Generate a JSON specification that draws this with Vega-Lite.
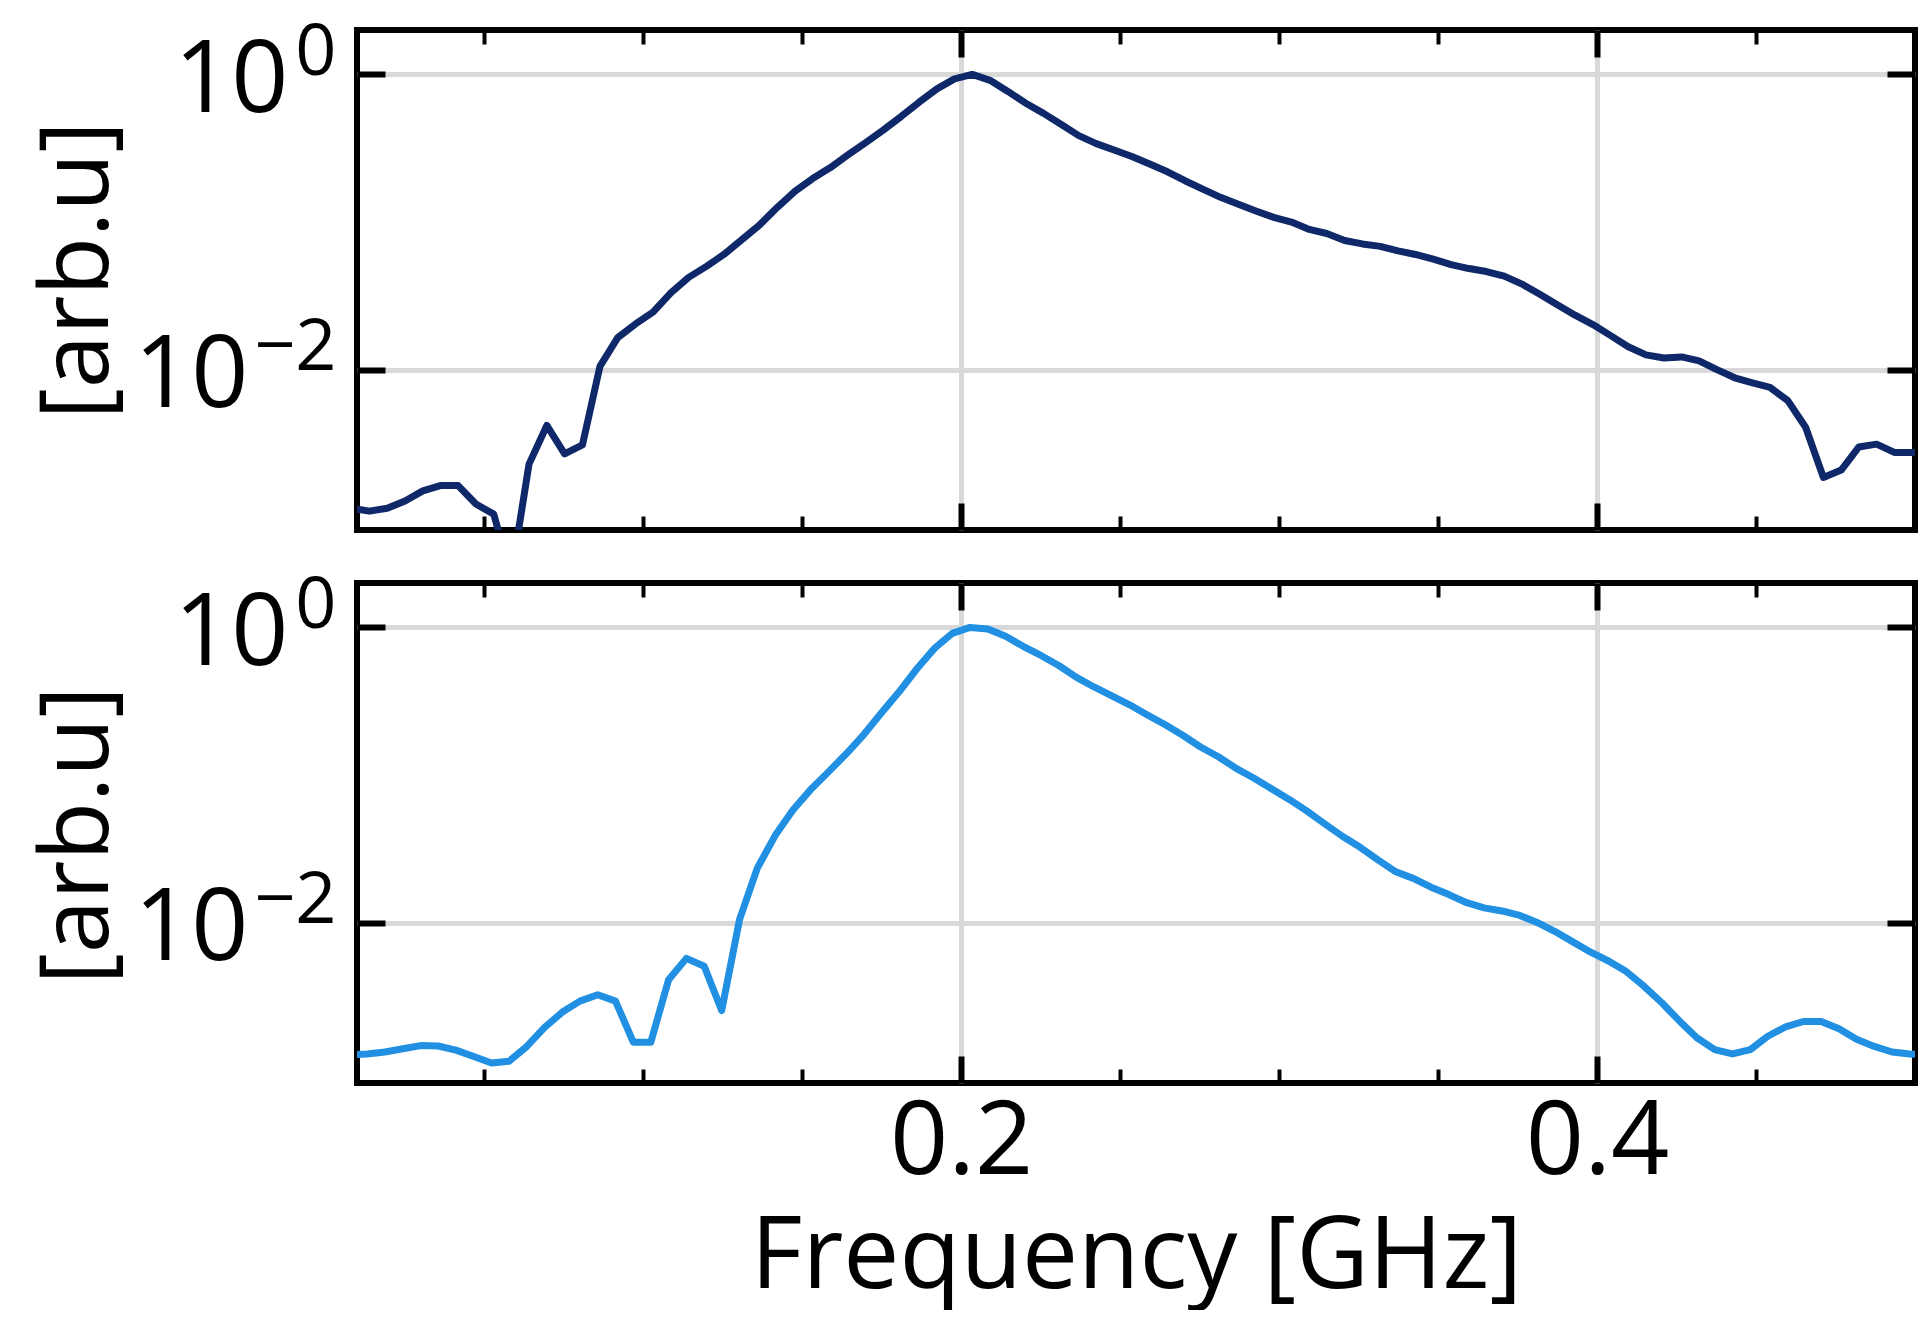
{
  "$schema": "https://vega.github.io/schema/vega-lite/v6.json",
  "background": "white",
  "padding": {"left": 27, "top": 13, "right": 0, "bottom": 0},
  "bounds": "flush",
  "spacing": 53,
  "config": {
    "view": {"stroke": "black", "strokeWidth": 6},
    "axis": {"domain": false, "labelFont": "Open Sans", "titleFont": "Open Sans", "labelColor": "black", "titleColor": "black", "tickColor": "black", "titleFontWeight": "normal", "labelFontWeight": "normal"}
  },
  "datasets": {
    "top": [
      {"f":0.0028,"a":0.00115},{"f":0.0084,"a":0.00115},{"f":0.0139,"a":0.0011},{"f":0.0195,"a":0.00115},{"f":0.0251,"a":0.00129},{"f":0.0307,"a":0.00151},{"f":0.0362,"a":0.00164},{"f":0.0418,"a":0.00164},{"f":0.0474,"a":0.00123},{"f":0.053,"a":0.00105},
      {"f":0.0585,"a":0.000398},{"f":0.0641,"a":0.00229},{"f":0.0697,"a":0.00419},{"f":0.0753,"a":0.00269},{"f":0.0809,"a":0.00309},{"f":0.0864,"a":0.01052},{"f":0.092,"a":0.01648},{"f":0.0976,"a":0.0204},{"f":0.1031,"a":0.0245},{"f":0.1087,"a":0.0331},
      {"f":0.1143,"a":0.0422},{"f":0.1199,"a":0.0501},{"f":0.1254,"a":0.0603},{"f":0.131,"a":0.0759},{"f":0.1366,"a":0.0955},{"f":0.1422,"a":0.1259},{"f":0.1478,"a":0.162},{"f":0.1533,"a":0.197},{"f":0.1589,"a":0.234},{"f":0.1645,"a":0.286},
      {"f":0.1701,"a":0.347},{"f":0.1756,"a":0.421},{"f":0.1812,"a":0.52},{"f":0.1868,"a":0.649},{"f":0.1924,"a":0.798},{"f":0.1979,"a":0.933},{"f":0.2035,"a":1.0},{"f":0.2091,"a":0.912},{"f":0.2147,"a":0.767},{"f":0.2202,"a":0.641},
      {"f":0.2258,"a":0.547},{"f":0.2314,"a":0.46},{"f":0.237,"a":0.385},{"f":0.2425,"a":0.34},{"f":0.2481,"a":0.308},{"f":0.2537,"a":0.278},{"f":0.2593,"a":0.247},{"f":0.2649,"a":0.219},{"f":0.2704,"a":0.1905},{"f":0.276,"a":0.167},
      {"f":0.2816,"a":0.147},{"f":0.2872,"a":0.132},{"f":0.2927,"a":0.119},{"f":0.2983,"a":0.1076},{"f":0.3039,"a":0.1},{"f":0.3095,"a":0.0891},{"f":0.315,"a":0.0836},{"f":0.3206,"a":0.075},{"f":0.3262,"a":0.0711},{"f":0.3318,"a":0.0684},
      {"f":0.3374,"a":0.0638},{"f":0.3429,"a":0.0603},{"f":0.3485,"a":0.056},{"f":0.3541,"a":0.0515},{"f":0.3597,"a":0.0484},{"f":0.3652,"a":0.0462},{"f":0.3708,"a":0.043},{"f":0.3764,"a":0.038},{"f":0.382,"a":0.0324},{"f":0.3875,"a":0.0275},
      {"f":0.3931,"a":0.0234},{"f":0.3987,"a":0.0202},{"f":0.4043,"a":0.017},{"f":0.4098,"a":0.0143},{"f":0.4154,"a":0.0126},{"f":0.421,"a":0.012},{"f":0.4266,"a":0.0122},{"f":0.4321,"a":0.01148},{"f":0.4377,"a":0.01},{"f":0.4433,"a":0.00881},
      {"f":0.4489,"a":0.00813},{"f":0.4544,"a":0.00759},{"f":0.46,"a":0.00617},{"f":0.4656,"a":0.00407},{"f":0.4712,"a":0.00186},{"f":0.4768,"a":0.00209},{"f":0.4823,"a":0.00299},{"f":0.4879,"a":0.00313},{"f":0.4935,"a":0.00275},{"f":0.499,"a":0.00275},
      {"f":0.5046,"a":0.00275}
    ],
    "bottom": [
      {"f":0.0021,"a":0.00126},{"f":0.0077,"a":0.00127},{"f":0.0132,"a":0.00129},{"f":0.0188,"a":0.00133},{"f":0.0244,"a":0.0014},{"f":0.03,"a":0.00147},{"f":0.0355,"a":0.00146},{"f":0.0411,"a":0.00137},{"f":0.0467,"a":0.00124},{"f":0.0523,"a":0.00112},
      {"f":0.0578,"a":0.00115},{"f":0.0634,"a":0.00145},{"f":0.069,"a":0.00195},{"f":0.0746,"a":0.00248},{"f":0.0801,"a":0.00294},{"f":0.0857,"a":0.00325},{"f":0.0913,"a":0.00294},{"f":0.0969,"a":0.00155},{"f":0.1024,"a":0.00155},{"f":0.108,"a":0.0041},
      {"f":0.1136,"a":0.00573},{"f":0.1192,"a":0.00507},{"f":0.1247,"a":0.00254},{"f":0.1303,"a":0.01047},{"f":0.1359,"a":0.0234},{"f":0.1415,"a":0.0389},{"f":0.1471,"a":0.0579},{"f":0.1526,"a":0.0794},{"f":0.1582,"a":0.1047},{"f":0.1638,"a":0.1387},
      {"f":0.1694,"a":0.188},{"f":0.1749,"a":0.263},{"f":0.1805,"a":0.366},{"f":0.1861,"a":0.525},{"f":0.1917,"a":0.724},{"f":0.1972,"a":0.912},{"f":0.2028,"a":1.0},{"f":0.2084,"a":0.977},{"f":0.214,"a":0.871},{"f":0.2195,"a":0.745},
      {"f":0.2251,"a":0.646},{"f":0.2307,"a":0.552},{"f":0.2363,"a":0.459},{"f":0.2418,"a":0.395},{"f":0.2474,"a":0.344},{"f":0.253,"a":0.299},{"f":0.2586,"a":0.255},{"f":0.2642,"a":0.219},{"f":0.2697,"a":0.186},{"f":0.2753,"a":0.155},
      {"f":0.2809,"a":0.133},{"f":0.2865,"a":0.111},{"f":0.292,"a":0.0955},{"f":0.2976,"a":0.0807},{"f":0.3032,"a":0.0684},{"f":0.3088,"a":0.0569},{"f":0.3143,"a":0.0468},{"f":0.3199,"a":0.0385},{"f":0.3255,"a":0.0324},{"f":0.3311,"a":0.0266},
      {"f":0.3367,"a":0.0221},{"f":0.3422,"a":0.01995},{"f":0.3478,"a":0.0174},{"f":0.3534,"a":0.0155},{"f":0.359,"a":0.01365},{"f":0.3645,"a":0.0126},{"f":0.3701,"a":0.012},{"f":0.3757,"a":0.0112},{"f":0.3813,"a":0.01},{"f":0.3868,"a":0.00871},
      {"f":0.3924,"a":0.00741},{"f":0.398,"a":0.00631},{"f":0.4036,"a":0.0055},{"f":0.4091,"a":0.00468},{"f":0.4147,"a":0.00372},{"f":0.4203,"a":0.00288},{"f":0.4259,"a":0.00216},{"f":0.4314,"a":0.00166},{"f":0.437,"a":0.00138},{"f":0.4426,"a":0.00129},
      {"f":0.4482,"a":0.00138},{"f":0.4537,"a":0.0017},{"f":0.4593,"a":0.00197},{"f":0.4649,"a":0.00214},{"f":0.4705,"a":0.00214},{"f":0.4761,"a":0.00191},{"f":0.4816,"a":0.00162},{"f":0.4872,"a":0.00145},{"f":0.4928,"a":0.00133},{"f":0.4983,"a":0.00129},
      {"f":0.5039,"a":0.00127}
    ]
  },
  "vconcat": [
    {
      "width": 1558, "height": 500,
      "data": {"name": "top"},
      "layer": [
        {"mark": {"type": "line", "color": "#0f286a", "strokeWidth": 7, "clip": true, "strokeJoin": "round"},
         "encoding": {
           "x": {"field": "f", "type": "quantitative", "scale": {"domain": [0.01, 0.5], "nice": false, "zero": false}, "axis": {"orient": "bottom", "values": [0.2, 0.4], "labels": false, "tickSize": -27, "tickWidth": 6, "grid": true, "gridColor": "#d9d9d9", "gridWidth": 5, "title": null}},
           "y": {"field": "a", "type": "quantitative", "scale": {"type": "log", "domain": [0.00082, 2.0], "nice": false}, "axis": {"orient": "left", "values": [1, 0.01], "labels": false, "tickSize": -28, "tickWidth": 6, "grid": true, "gridColor": "#d9d9d9", "gridWidth": 5, "title": null}}
         }},
        {"mark": {"type": "line", "opacity": 0},
         "encoding": {
           "x": {"field": "f", "type": "quantitative", "scale": {"domain": [0.01, 0.5], "nice": false, "zero": false}, "axis": {"orient": "bottom", "values": [0.05, 0.1, 0.15, 0.25, 0.3, 0.35, 0.45], "labels": false, "tickSize": -14, "tickWidth": 4, "grid": false, "title": null}},
           "y": {"field": "a", "type": "quantitative", "scale": {"type": "log", "domain": [0.00082, 2.0], "nice": false}, "axis": {"orient": "right", "values": [1, 0.01], "labels": false, "tickSize": -28, "tickWidth": 6, "grid": false, "title": null}}
         }},
        {"mark": {"type": "line", "opacity": 0},
         "encoding": {
           "x": {"field": "f", "type": "quantitative", "scale": {"domain": [0.01, 0.5], "nice": false, "zero": false}, "axis": {"orient": "top", "values": [0.2, 0.4], "labels": false, "tickSize": -27, "tickWidth": 6, "grid": false, "title": null}},
           "y": {"field": "a", "type": "quantitative", "scale": {"type": "log", "domain": [0.00082, 2.0], "nice": false}, "axis": {"orient": "left", "values": [1], "ticks": false, "tickSize": 0, "grid": false, "labelExpr": "'10'", "labelFontSize": 100, "labelBaseline": "alphabetic", "labelOffset": 37, "labelPadding": 69, "title": "[arb.u]", "titleFontSize": 96, "titleX": -250, "titleY": 240, "titleAngle": 270, "titleBaseline": "alphabetic", "titleAlign": "center"}}
         }},
        {"mark": {"type": "line", "opacity": 0},
         "encoding": {
           "x": {"field": "f", "type": "quantitative", "scale": {"domain": [0.01, 0.5], "nice": false, "zero": false}, "axis": {"orient": "top", "values": [0.05, 0.1, 0.15, 0.25, 0.3, 0.35, 0.45], "labels": false, "tickSize": -14, "tickWidth": 4, "grid": false, "title": null}},
           "y": {"field": "a", "type": "quantitative", "scale": {"type": "log", "domain": [0.00082, 2.0], "nice": false}, "axis": {"orient": "left", "values": [0.01], "ticks": false, "tickSize": 0, "grid": false, "labelExpr": "'10'", "labelFontSize": 100, "labelBaseline": "alphabetic", "labelOffset": 37, "labelPadding": 109, "title": null}}
         }},
        {"mark": {"type": "line", "opacity": 0},
         "encoding": {
           "x": {"field": "f", "type": "quantitative", "scale": {"domain": [0.01, 0.5], "nice": false, "zero": false}, "axis": null},
           "y": {"field": "a", "type": "quantitative", "scale": {"type": "log", "domain": [0.00082, 2.0], "nice": false}, "axis": {"orient": "left", "values": [1, 0.01], "ticks": false, "tickSize": 0, "grid": false, "labelExpr": "datum.value > 0.5 ? '0' : '\u22122'", "labelFontSize": 72, "labelBaseline": "alphabetic", "labelOffset": 0, "labelPadding": 21, "title": null}}
         }}
      ],
      "resolve": {"axis": {"x": "independent", "y": "independent"}}
    },
    {
      "width": 1558, "height": 500,
      "data": {"name": "bottom"},
      "layer": [
        {"mark": {"type": "line", "color": "#2190e3", "strokeWidth": 7, "clip": true, "strokeJoin": "round"},
         "encoding": {
           "x": {"field": "f", "type": "quantitative", "scale": {"domain": [0.01, 0.5], "nice": false, "zero": false}, "axis": {"orient": "bottom", "values": [0.2, 0.4], "labels": false, "tickSize": -27, "tickWidth": 6, "grid": true, "gridColor": "#d9d9d9", "gridWidth": 5, "title": null}},
           "y": {"field": "a", "type": "quantitative", "scale": {"type": "log", "domain": [0.00082, 2.0], "nice": false}, "axis": {"orient": "left", "values": [1, 0.01], "labels": false, "tickSize": -28, "tickWidth": 6, "grid": true, "gridColor": "#d9d9d9", "gridWidth": 5, "title": null}}
         }},
        {"mark": {"type": "line", "opacity": 0},
         "encoding": {
           "x": {"field": "f", "type": "quantitative", "scale": {"domain": [0.01, 0.5], "nice": false, "zero": false}, "axis": {"orient": "bottom", "values": [0.05, 0.1, 0.15, 0.25, 0.3, 0.35, 0.45], "labels": false, "tickSize": -14, "tickWidth": 4, "grid": false, "title": null}},
           "y": {"field": "a", "type": "quantitative", "scale": {"type": "log", "domain": [0.00082, 2.0], "nice": false}, "axis": {"orient": "right", "values": [1, 0.01], "labels": false, "tickSize": -28, "tickWidth": 6, "grid": false, "title": null}}
         }},
        {"mark": {"type": "line", "opacity": 0},
         "encoding": {
           "x": {"field": "f", "type": "quantitative", "scale": {"domain": [0.01, 0.5], "nice": false, "zero": false}, "axis": {"orient": "top", "values": [0.2, 0.4], "labels": false, "tickSize": -27, "tickWidth": 6, "grid": false, "title": null}},
           "y": {"field": "a", "type": "quantitative", "scale": {"type": "log", "domain": [0.00082, 2.0], "nice": false}, "axis": {"orient": "left", "values": [1], "ticks": false, "tickSize": 0, "grid": false, "labelExpr": "'10'", "labelFontSize": 100, "labelBaseline": "alphabetic", "labelOffset": 37, "labelPadding": 69, "title": "[arb.u]", "titleFontSize": 96, "titleX": -250, "titleY": 252, "titleAngle": 270, "titleBaseline": "alphabetic", "titleAlign": "center"}}
         }},
        {"mark": {"type": "line", "opacity": 0},
         "encoding": {
           "x": {"field": "f", "type": "quantitative", "scale": {"domain": [0.01, 0.5], "nice": false, "zero": false}, "axis": {"orient": "top", "values": [0.05, 0.1, 0.15, 0.25, 0.3, 0.35, 0.45], "labels": false, "tickSize": -14, "tickWidth": 4, "grid": false, "title": null}},
           "y": {"field": "a", "type": "quantitative", "scale": {"type": "log", "domain": [0.00082, 2.0], "nice": false}, "axis": {"orient": "left", "values": [0.01], "ticks": false, "tickSize": 0, "grid": false, "labelExpr": "'10'", "labelFontSize": 100, "labelBaseline": "alphabetic", "labelOffset": 37, "labelPadding": 109, "title": null}}
         }},
        {"mark": {"type": "line", "opacity": 0},
         "encoding": {
           "x": {"field": "f", "type": "quantitative", "scale": {"domain": [0.01, 0.5], "nice": false, "zero": false}, "axis": {"orient": "bottom", "values": [0.2, 0.4], "ticks": false, "tickSize": 0, "grid": false, "labelFontSize": 102, "labelBaseline": "alphabetic", "labelPadding": 90, "title": "Frequency [GHz]", "titleFontSize": 100, "titleY": 204, "titleBaseline": "alphabetic"}},
           "y": {"field": "a", "type": "quantitative", "scale": {"type": "log", "domain": [0.00082, 2.0], "nice": false}, "axis": {"orient": "left", "values": [1, 0.01], "ticks": false, "tickSize": 0, "grid": false, "labelExpr": "datum.value > 0.5 ? '0' : '\u22122'", "labelFontSize": 72, "labelBaseline": "alphabetic", "labelOffset": 0, "labelPadding": 21, "title": null}}
         }}
      ],
      "resolve": {"axis": {"x": "independent", "y": "independent"}}
    }
  ]
}
